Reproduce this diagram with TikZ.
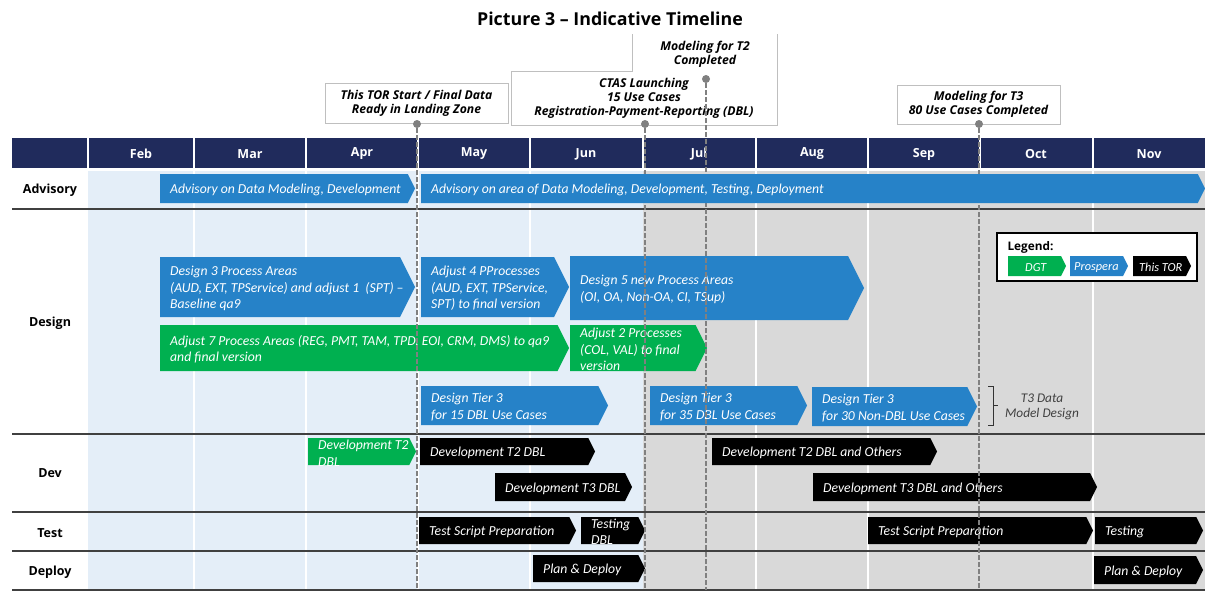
\documentclass[tikz,border=0pt]{standalone}
\usepackage{fontspec}
\setmainfont{Carlito}
\newfontfamily\opensans{Open Sans}
\usetikzlibrary{calc}

\definecolor{hdrnavy}{RGB}{32,43,92}
\definecolor{bgblue}{RGB}{228,238,248}
\definecolor{bggray}{RGB}{217,217,217}
\definecolor{probar}{RGB}{38,130,200}
\definecolor{dgtbar}{RGB}{0,176,80}
\definecolor{callline}{RGB}{191,191,191}
\definecolor{mileline}{RGB}{128,128,128}

\tikzset{
  bartext/.style={anchor=west, text=white, align=left, inner xsep=10pt, inner ysep=0pt, yshift=-1.5pt,
    font=\itshape\fontsize{13.7}{16.5}\selectfont},
  month/.style={text=white, font=\opensans\bfseries\fontsize{12.5}{14}\selectfont},
  rowlabel/.style={font=\opensans\bfseries\fontsize{12.5}{14}\selectfont},
  callout/.style={align=center, font=\opensans\bfseries\itshape\fontsize{12.2}{14.3}\selectfont},
  milestone/.style={draw=mileline, line width=1.6pt, dash pattern=on 4.5pt off 2.5pt},
  miledot/.style={circle, fill=mileline, inner sep=0pt, minimum size=8pt},
  rowline/.style={draw=black!75, line width=1.1pt},
  sepline/.style={draw=white, line width=1.5pt},
}

% chevron bar: [node opts]{name}{fill}{x1}{y1}{tip x}{y2}{text}
\newcommand{\chev}[8][]{%
  \fill[#3] (#4,#5) -- ({#6-0.25*(#7-#5)},#5) -- (#6,{(#5+#7)/2})
    -- ({#6-0.25*(#7-#5)},#7) -- (#4,#7) -- cycle;
  \node[bartext,#1] (#2) at (#4,{(#5+#7)/2}) {#8};}

\begin{document}
\begin{tikzpicture}[x=1pt,y=-1pt]
\useasboundingbox (0,0) rectangle (1205,592);

\node[font=\opensans\bfseries\fontsize{17.8}{20}\selectfont] (title) at (610,19) {Picture 3 – Indicative Timeline};

% background of the months
\fill[bgblue] (88,171) rectangle (643,590);
\fill[bggray] (643,171) rectangle (1205,590);
\draw[sepline] (194,171) -- (194,590);
\draw[sepline] (306,171) -- (306,590);
\draw[sepline] (418,171) -- (418,590);
\draw[sepline] (530,171) -- (530,590);
\draw[sepline] (756,171) -- (756,590);
\draw[sepline] (868,171) -- (868,590);
\draw[sepline] (1093,171) -- (1093,590);

% header
\fill[hdrnavy] (12,138) rectangle (1205,168);
\draw[sepline] (88,138) -- (88,168);
\draw[sepline] (194,138) -- (194,168);
\draw[sepline] (306,138) -- (306,168);
\draw[sepline] (418,138) -- (418,168);
\draw[sepline] (530,138) -- (530,168);
\draw[sepline] (643,138) -- (643,168);
\draw[sepline] (756,138) -- (756,168);
\draw[sepline] (868,138) -- (868,168);
\draw[sepline] (980,138) -- (980,168);
\draw[sepline] (1093,138) -- (1093,168);
\node[month] (feb) at (141,154) {Feb};
\node[month] (mar) at (250,154) {Mar};
\node[month] (apr) at (362,154) {Apr};
\node[month] (may) at (474,154) {May};
\node[month] (jun) at (586,154) {Jun};
\node[month] (jul) at (699,154) {Jul};
\node[month] (aug) at (812,154) {Aug};
\node[month] (sep) at (924,154) {Sep};
\node[month] (oct) at (1036,154) {Oct};
\node[month] (nov) at (1149,154) {Nov};

% rows
\draw[rowline] (12,209) -- (1205,209);
\draw[rowline] (12,434) -- (1205,434);
\draw[rowline] (12,512) -- (1205,512);
\draw[rowline] (12,551) -- (1205,551);
\draw[rowline] (12,590) -- (1205,590);
\node[rowlabel] (advisory) at (50,190) {Advisory};
\node[rowlabel] (design) at (50,323) {Design};
\node[rowlabel] (dev) at (50,473) {Dev};
\node[rowlabel] (test) at (50,533) {Test};
\node[rowlabel] (deploy) at (50,572) {Deploy};

% design
\chev{des3}{probar}{160}{257}{415}{317}{Design 3 Process Areas\\(AUD, EXT, TPService) and adjust 1~ (SPT) –\\Baseline qa9}
\chev{adj4}{probar}{421}{257}{569}{317}{Adjust 4 PProcesses\\(AUD, EXT, TPService,\\SPT) to final version}
\chev{des5}{probar}{570}{256}{864}{320}{Design 5 new Process Areas\\(OI, OA, Non-OA, CI, TSup)}
\chev{adj7}{dgtbar}{160}{325}{569}{371}{Adjust 7 Process Areas (REG, PMT, TAM, TPD, EOI, CRM, DMS) to qa9\\and final version}
\chev{adj2}{dgtbar}{570}{325}{707}{371}{Adjust 2 Processes\\(COL, VAL) to final\\version}
\chev{tier15}{probar}{421}{386}{608}{425}{Design Tier 3\\for 15 DBL Use Cases}
\chev{tier35}{probar}{650}{386}{807}{425}{Design Tier 3\\for 35 DBL Use Cases}
\chev{tier30}{probar}{812}{387}{977}{426}{Design Tier 3\\for 30 Non-DBL Use Cases}
\draw[black!80, line width=1pt] (988,386) -- (993,386) -- (993,425) -- (988,425);
\draw[black!80, line width=1pt] (993,405.5) -- (998,405.5);
\node[align=center, text=black!75, font=\itshape\fontsize{13.3}{15}\selectfont] (t3model) at (1042,406.5) {T3 Data\\Model Design};

% legend
\node[draw=black, line width=1.2pt, fill=white, minimum width=200pt, minimum height=48pt] (legend) at (1097,257) {};
\node[anchor=west, font=\opensans\bfseries\fontsize{11.8}{13}\selectfont] (legendtitle) at (1004,247) {Legend:};
\chev[inner xsep=17pt, font=\itshape\fontsize{12.3}{13}\selectfont]{dgt}{dgtbar}{1008}{256}{1066}{276}{DGT}
\chev[inner xsep=4pt, font=\itshape\fontsize{12.3}{13}\selectfont]{prospera}{probar}{1070}{256}{1128}{276}{Prospera}
\chev[inner xsep=6pt, font=\itshape\fontsize{12.3}{13}\selectfont]{thistor}{black}{1133}{256}{1191}{276}{This TOR}

% dev
\chev{devgreen}{dgtbar}{308}{438}{416}{465}{Development T2\\DBL}
\chev{devtwo}{black}{420}{438}{595}{465}{Development T2 DBL}
\chev{devthree}{black}{495}{473}{632}{501}{Development T3 DBL}
\chev{devtwoo}{black}{712}{438}{937}{465}{Development T2 DBL and Others}
\chev{devthreeo}{black}{813}{473}{1097}{501}{Development T3 DBL and Others}

% test
\chev{tsp}{black}{419}{517}{576}{544}{Test Script Preparation}
\chev{testdbl}{black}{581}{517}{645}{544}{Testing\\DBL}
\chev{tspb}{black}{868}{517}{1093}{544}{Test Script Preparation}
\chev{testing}{black}{1095}{517}{1203}{544}{Testing}

% deploy
\chev{plana}{black}{533}{555}{645}{582}{Plan \& Deploy}
\chev{planb}{black}{1094}{556}{1203}{584}{Plan \& Deploy}

% milestones
\node[callout, draw=callline, minimum width=183pt, minimum height=40pt] (torbox) at (416.5,103) {This TOR Start / Final Data\\Ready in Landing Zone};
\draw[callline] (632,34) -- (632,71) -- (511,71) -- (511,125) -- (777,125) -- (777,34);
\node[callout] (ctas) at (644,98.5) {CTAS Launching\\15 Use Cases\\Registration-Payment-Reporting (DBL)};
\node[callout] (modt2) at (705,54.5) {Modeling for T2\\Completed};
\node[callout, draw=callline, minimum width=163pt, minimum height=39pt] (modt3) at (978.5,104.5) {Modeling for T3\\80 Use Cases Completed};
\node[miledot] (dtor) at (417,124) {};
\node[miledot] (dctas) at (645,124) {};
\node[miledot] (dt2) at (706,79) {};
\node[miledot] (dt3) at (979,124) {};
\coordinate (etor) at (417,590);
\coordinate (ectas) at (645,590);
\coordinate (et2) at (706,590);
\coordinate (et3) at (979,590);
\draw[milestone] (dtor) -- (etor);
\draw[milestone] (dctas) -- (ectas);
\draw[milestone] (dt2) -- (et2);
\draw[milestone] (dt3) -- (et3);

% advisory
\chev{advone}{probar}{160}{174}{415}{203}{Advisory on Data Modeling, Development}
\chev{advtwo}{probar}{421}{174}{1205}{203}{Advisory on area of Data Modeling, Development, Testing, Deployment}
\end{tikzpicture}
\end{document}
